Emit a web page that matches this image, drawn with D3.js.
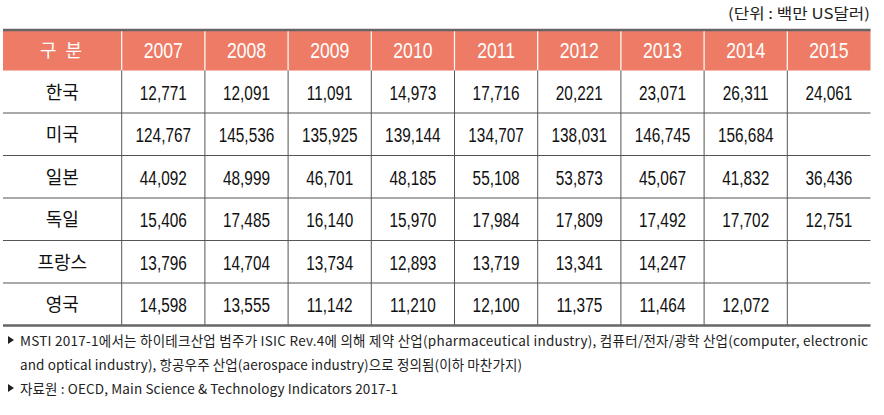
<!DOCTYPE html>
<html><head><meta charset="utf-8">
<script src="https://cdn.jsdelivr.net/npm/d3@7"></script>
<style>html,body{margin:0;padding:0;background:#fff;}svg{display:block;}</style>
</head><body>
<svg id="c" width="884" height="415"></svg>
<script>
const years = ["2007","2008","2009","2010","2011","2012","2013","2014","2015"];
const countries = ["한국","미국","일본","독일","프랑스","영국"];
const korea   = [12771,12091,11091,14973,17716,20221,23071,26311,24061];
const usa     = [124767,145536,135925,139144,134707,138031,146745,156684,null];
const japan   = [44092,48999,46701,48185,55108,53873,45067,41832,36436];
const germany = [15406,17485,16140,15970,17984,17809,17492,17702,12751];
const france  = [13796,14704,13734,12893,13719,13341,14247,null,null];
const uk      = [14598,13555,11142,11210,12100,11375,11464,12072,null];
const seriesValues = [korea, usa, japan, germany, france, uk];
const headerLabel = "구 분";
const unitLabel = "(단위 : 백만 US달러)";
const notes = [
  {bullet:true,  text:"MSTI 2017-1에서는 하이테크산업 범주가 ISIC Rev.4에 의해 제약 산업(pharmaceutical industry), 컴퓨터/전자/광학 산업(computer, electronic", len:848, adj:"spacing"},
  {bullet:false, text:"and optical industry), 항공우주 산업(aerospace industry)으로 정의됨(이하 마찬가지)", len:502, adj:"spacing"},
  {bullet:true,  text:"자료원 : OECD, Main Science & Technology Indicators 2017-1", len:378, adj:"spacing"}
];

const svg = d3.select("#c");
const tLeft = 3, firstColRight = 121.7, tRight = 870.5;
const tTop = 30, headerBottom = 70.5, tBottom = 325.5;
const x = d3.scaleBand().domain(years).range([firstColRight, tRight]);
const y = d3.scaleBand().domain(countries).range([headerBottom, tBottom]);
const fmt = d3.format(",");
const numFont = "'Liberation Sans', Arial, sans-serif";
const krFont = "'Noto Sans CJK KR', 'Noto Sans', sans-serif";

// unit label
svg.append("text").attr("x", 870).attr("y", 19).attr("text-anchor","end")
  .attr("font-family", krFont).attr("font-size", 14.5).attr("fill","#222")
  .attr("textLength", 142).attr("lengthAdjust","spacingAndGlyphs")
  .text(unitLabel);

// header background
svg.append("rect").attr("x", tLeft).attr("y", tTop).attr("width", tRight-tLeft).attr("height", headerBottom-tTop)
  .attr("fill", "#ED7B66");

// header separators (white)
svg.selectAll(".hsep").data(years).join("line")
  .attr("x1", d => x(d)).attr("x2", d => x(d)).attr("y1", tTop).attr("y2", headerBottom)
  .attr("stroke", "#fff").attr("stroke-width", 1.2);

// header texts
svg.append("text").attr("x", 40).attr("y", (tTop+headerBottom)/2 + 6.5)
  .attr("font-family", krFont).attr("font-size", 18).attr("fill","#fff")
  .attr("textLength", 42).attr("lengthAdjust","spacing")
  .attr("xml:space","preserve").text(headerLabel);
svg.selectAll(".ylab").data(years).join("text")
  .attr("transform", d => `translate(${x(d)+x.bandwidth()/2},${(tTop+headerBottom)/2 + 8}) scale(0.8,1)`)
  .attr("text-anchor","middle").attr("font-family", numFont).attr("font-size", 22).attr("fill","#fff")
  .text(d => d);

// row lines
svg.selectAll(".rline").data(countries.slice(1)).join("line")
  .attr("x1", tLeft).attr("x2", tRight).attr("y1", d => y(d)).attr("y2", d => y(d))
  .attr("stroke", "#555").attr("stroke-width", 1);

// vertical lines in body
svg.selectAll(".vline").data(years).join("line")
  .attr("x1", d => x(d)).attr("x2", d => x(d)).attr("y1", headerBottom).attr("y2", tBottom)
  .attr("stroke", "#555").attr("stroke-width", 1);

// country labels
svg.selectAll(".clab").data(countries).join("text")
  .attr("x", (tLeft+firstColRight)/2).attr("y", d => y(d)+y.bandwidth()/2 + 7)
  .attr("text-anchor","middle").attr("font-family", krFont).attr("font-size", 18).attr("fill","#111")
  .text(d => d);

// values
const cells = [];
countries.forEach((c,i) => years.forEach((yr,j) => { if (seriesValues[i][j] != null) cells.push({c, yr, v: seriesValues[i][j]}); }));
svg.selectAll(".val").data(cells).join("text")
  .attr("transform", d => `translate(${x(d.yr)+x.bandwidth()/2},${y(d.c)+y.bandwidth()/2 + 8}) scale(0.75,1)`)
  .attr("text-anchor","middle").attr("font-family", numFont).attr("font-size", 20.5).attr("fill","#111")
  .text(d => fmt(d.v));

// top & bottom borders
svg.append("line").attr("x1", tLeft).attr("x2", tRight).attr("y1", tTop).attr("y2", tTop)
  .attr("stroke", "#666").attr("stroke-width", 2.5);
svg.append("line").attr("x1", tLeft).attr("x2", tRight).attr("y1", tBottom).attr("y2", tBottom)
  .attr("stroke", "#666").attr("stroke-width", 2.5);

// footnotes
const noteY = [346, 370, 394];
notes.forEach((n,i) => {
  if (n.bullet) {
    svg.append("path").attr("d", `M8,${noteY[i]-10} L14,${noteY[i]-6} L8,${noteY[i]-2} Z`).attr("fill","#222");
  }
  svg.append("text").attr("x", 20).attr("y", noteY[i])
    .attr("font-family", krFont).attr("font-size", 13.5).attr("fill","#222")
    .attr("textLength", n.len).attr("lengthAdjust", n.adj)
    .text(n.text);
});
</script>
</body></html>
